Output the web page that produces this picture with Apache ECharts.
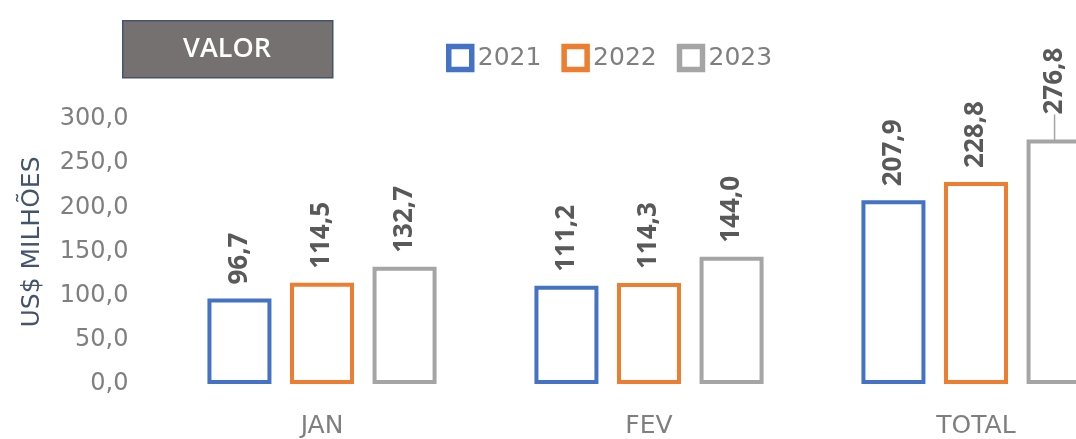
<!DOCTYPE html>
<html>
<head>
<meta charset="utf-8">
<script src="https://cdn.jsdelivr.net/npm/echarts@6/dist/echarts.min.js"></script>
<style>
html,body{margin:0;padding:0;background:#fff;overflow:hidden;width:1076px;height:439px;}
#c{width:1150px;height:439px;}
</style>
</head>
<body>
<div id="c"></div>
<script>
const categories = ['JAN', 'FEV', 'TOTAL'];
const years = ['2021', '2022', '2023'];
const values2021 = [96.7, 111.2, 207.9];
const values2022 = [114.5, 114.3, 228.8];
const values2023 = [132.7, 144.0, 276.8];
const yMin = 0, yMax = 300, yStep = 50;
const colors = ['#4472c4', '#ed7d31', '#a5a5a5'];

const fmt = v => Number(v).toFixed(1).replace('.', ',');
const chart = echarts.init(document.getElementById('c'), null, {renderer: 'canvas'});

const seriesValues = [values2021, values2022, values2023];
const series = seriesValues.map((vals, i) => ({
  name: years[i],
  type: 'bar',
  barWidth: 64,
  barGap: '29%',
  itemStyle: {color: '#ffffff', borderColor: colors[i], borderWidth: 4},
  emphasis: {disabled: true},
  label: {
    show: true,
    position: 'top',
    rotate: 90,
    align: 'left',
    verticalAlign: 'middle',
    distance: 14,
    color: '#595959',
    fontFamily: 'Open Sans',
    fontWeight: 'bold',
    fontSize: 26,
    formatter: p => fmt(p.value)
  },
  labelLayout: function (p) {
    if (p.seriesIndex === 2 && p.dataIndex === 2) return {dx: 11, dy: -4};
    return {};
  },
  data: vals.map((v, j) => (i === 2 && j === 2)
    ? {value: v, labelLine: {show: true, lineStyle: {color: '#a6a6a6', width: 1.5}}}
    : v)
}));

chart.setOption({
  animation: false,
  backgroundColor: '#ffffff',
  grid: {left: 158.5, right: 10.5, top: 119, bottom: 46, containLabel: false},
  legend: {
    data: years.map((y, i) => ({name: y, itemStyle: {color: '#ffffff', borderColor: colors[i], borderWidth: 5.5}})),
    left: 446,
    top: 43,
    padding: 0,
    icon: 'rect',
    itemWidth: 23,
    itemHeight: 23,
    itemGap: 20,
    textStyle: {fontFamily: 'DejaVu Sans', fontSize: 25, color: '#7f7f7f', lineHeight: 30, padding: [0, 0, 0, 1]}
  },
  xAxis: {
    type: 'category',
    data: categories,
    axisLine: {show: false},
    axisTick: {show: false},
    axisLabel: {margin: 30, color: '#7f7f7f', fontFamily: 'DejaVu Sans', fontSize: 25}
  },
  yAxis: {
    type: 'value',
    min: yMin,
    max: yMax,
    interval: yStep,
    axisLine: {show: false},
    axisTick: {show: false},
    splitLine: {show: false},
    axisLabel: {margin: 30, color: '#7f7f7f', fontFamily: 'DejaVu Sans', fontSize: 24, formatter: v => fmt(v)}
  },
  graphic: [
    {
      type: 'rect',
      left: 122, top: 20,
      shape: {width: 210, height: 57},
      style: {fill: '#767171', stroke: '#44546a', lineWidth: 1.5}
    },
    {
      type: 'text',
      x: 227, y: 49,
      style: {text: 'VALOR', fill: '#ffffff', font: '600 27px "Open Sans"', align: 'center', verticalAlign: 'middle'}
    },
    {
      type: 'text',
      x: 32, y: 242,
      rotation: Math.PI / 2,
      style: {text: 'US$ MILHÕES', fill: '#44546a', font: '25px "DejaVu Sans"', align: 'center', verticalAlign: 'middle'}
    }
  ],
  series: series
});
</script>
</body>
</html>
